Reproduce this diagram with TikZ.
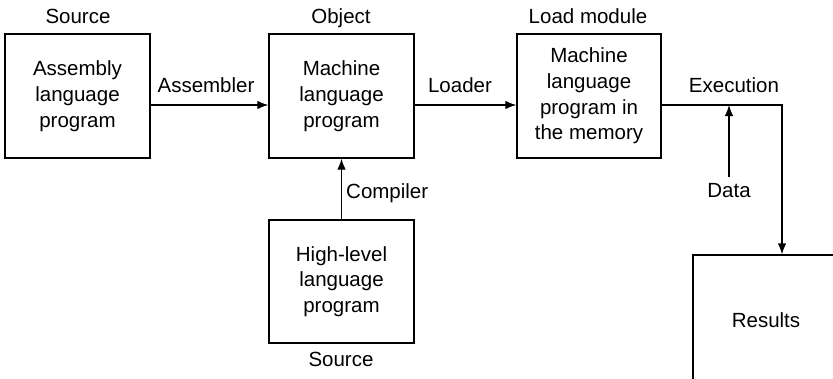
\documentclass[tikz,border=0pt]{standalone}
\usepackage{fontspec}
\setmainfont{Liberation Sans}
\usetikzlibrary{arrows.meta}
\begin{document}
\begin{tikzpicture}[x=1pt,y=-1pt,
  every node/.style={font=\fontsize{20.5}{25.7}\selectfont, inner sep=0pt},
  blk/.style={draw, line width=1.3pt, align=center, minimum height=124pt},
  lbl/.style={anchor=base},
  conn/.style={line width=1.3pt, -{Latex[length=11pt,width=8.5pt]}}]
\useasboundingbox (0,0) rectangle (833,378);
\clip (0,0) rectangle (833,378);
% boxes
\node[blk, minimum width=145pt] (b1) at (77.5,96) {Assembly\\language\\program};
\node[blk, minimum width=145pt] (b2) at (341.5,96) {Machine\\language\\program};
\node[blk, minimum width=144pt] (b3) at (589,96) {Machine\\language\\program in\\the memory};
\node[blk, minimum width=145pt, minimum height=123pt] (b4) at (341.5,281.5) {High-level\\language\\program};
\node[blk, minimum width=146pt, minimum height=130pt] (res) at (766,320) {Results};
% labels
\node[lbl] (s1) at (78,23) {Source};
\node[lbl] (o1) at (341,23) {Object};
\node[lbl] (lm) at (588,23) {Load module};
\node[lbl] (s2) at (341,366) {Source};
\node[lbl] (asm) at (206,92) {Assembler};
\node[lbl] (ldr) at (460,92) {Loader};
\node[lbl] (exe) at (734,92) {Execution};
\node[lbl, anchor=base west] (cmp) at (346,198) {Compiler};
\node[lbl] (dat) at (729,197) {Data};
\coordinate (dj) at (729,105);
% connectors
\draw[conn] ([yshift=-9pt]b1.east) -- ([yshift=-9pt]b2.west);
\draw[conn] ([yshift=-9pt]b2.east) -- ([yshift=-9pt]b3.west);
\draw[conn] (b4.north) -- (b2.south);
\draw[conn] ([yshift=-9pt]b3.east) -| ([xshift=16pt]res.north);
\draw[conn] ([yshift=6pt]dat.north) -- (dj);
\end{tikzpicture}
\end{document}
